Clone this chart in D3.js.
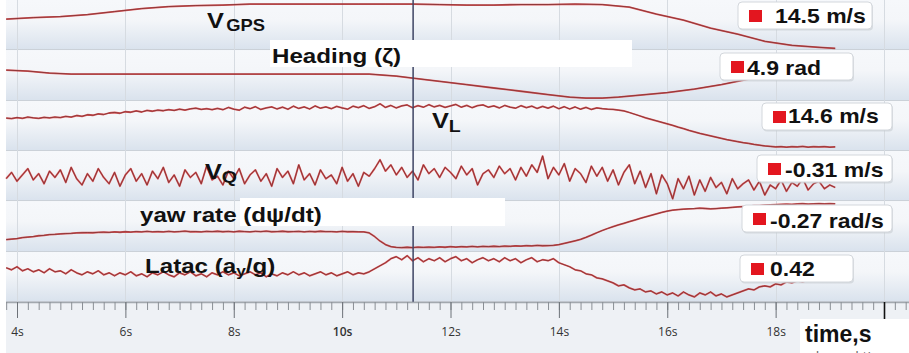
<!DOCTYPE html>
<html>
<head>
<meta charset="utf-8">
<script src="https://cdn.jsdelivr.net/npm/d3@7"></script>
<style>
  html, body { margin: 0; padding: 0; background: #fff; }
  svg { display: block; }
</style>
</head>
<body>
<svg id="chart" width="909" height="353"></svg>
<script>
// logged channels, sampled every dt seconds starting at t0
const t0 = 3.8, dt = 0.1;

// slow channels with their own time stamps
const vgpsTime = [3.8, 4.3, 4.8, 5.3, 5.8, 6.3, 6.8, 7.3, 7.8, 8.3, 8.8, 9.3, 9.8, 10.3, 10.8, 11.3,
  11.8, 12.3, 12.8, 13.3, 13.8, 14.3, 14.8, 15.3, 15.8, 16.3, 16.8, 17.3, 17.8, 18.3, 18.8, 19.1];
const vgps = [16.78, 16.9, 16.98, 17.14, 17.38, 17.62, 17.78, 17.86, 17.9, 17.98, 17.98, 17.98, 17.98, 17.98, 17.98, 17.98,
  17.94, 17.9, 17.9, 17.94, 17.94, 17.98, 17.94, 17.74, 17.18, 16.7, 16.06, 15.58, 15.02, 14.7, 14.54, 14.46];

const headingTime = [3.8, 4.2, 4.6, 5.0, 5.5, 6.5, 7.5, 8.5, 9.5, 10.5, 11.0, 11.3, 11.8, 12.3, 12.8,
  13.3, 13.8, 14.2, 14.5, 14.8, 15.1, 15.5, 16.0, 16.5, 17.0, 17.5, 18.0, 18.5, 19.1];
const heading = [5.108, 5.088, 5.049, 5.029, 5.029, 5.029, 5.029, 5.029, 5.029, 5.029, 4.989, 4.949, 4.884, 4.818, 4.752,
  4.687, 4.621, 4.57, 4.552, 4.552, 4.572, 4.611, 4.661, 4.731, 4.82, 4.929, 5.009, 5.088, 5.168];

// fast channels (one value per dt)
const vL = [
  16.82, 16.78, 16.86, 16.8, 16.9, 16.84, 16.79, 16.88, 16.83, 16.9,
  16.86, 16.95, 16.9, 17.02, 16.96, 17.08, 17.04, 17.15, 17.1, 17.22,
  17.26, 17.2, 17.32, 17.28, 17.38, 17.3, 17.42, 17.36, 17.45, 17.4,
  17.48, 17.42, 17.52, 17.45, 17.55, 17.6, 17.5, 17.56, 17.48, 17.58,
  17.48, 17.66, 17.52, 17.44, 17.68, 17.56, 17.72, 17.5, 17.62, 17.7,
  17.54, 17.68, 17.52, 17.76, 17.58, 17.7, 17.54, 17.78, 17.6, 17.7,
  17.56, 17.74, 17.62, 17.52, 17.76, 17.64, 17.8, 17.58, 17.72, 17.95,
  17.66, 17.82, 17.62, 17.78, 17.86, 17.64, 17.8, 17.68, 17.88, 17.7,
  17.82, 17.66, 17.78, 17.9, 17.68, 17.82, 17.64, 17.8, 17.86, 17.68,
  17.78, 17.62, 17.82, 17.68, 17.6, 17.8, 17.64, 17.76, 17.58, 17.74,
  17.6, 17.76, 17.56, 17.72, 17.54, 17.7, 17.52, 17.66, 17.5, 17.62,
  17.56, 17.52, 17.5, 17.45, 17.38, 17.26, 17.12, 16.98, 16.84, 16.72,
  16.6, 16.48, 16.36, 16.24, 16.1, 15.98, 15.84, 15.72, 15.6, 15.5,
  15.4, 15.3, 15.2, 15.1, 15.02, 14.94, 14.86, 14.8, 14.72, 14.66,
  14.6, 14.56, 14.52, 14.55, 14.5, 14.54, 14.52, 14.56, 14.5, 14.54,
  14.52, 14.55, 14.5, 14.53
];

const vQ = [
  -0.1, 0.15, -0.2, 0.05, 0.3, -0.15, 0.1, -0.3, 0.2, -0.05,
  0.25, -0.25, 0.35, -0.1, -0.35, 0.1, -0.2, 0.3, -0.05, -0.3,
  0.15, -0.4, 0.05, 0.3, -0.2, 0.1, -0.35, 0.2, -0.1, 0.35,
  -0.25, 0.05, -0.4, 0.25, -0.05, 0.15, -0.3, 0.4, -0.15, 0.0,
  -0.35, 0.2, -0.1, 0.3, -0.3, 0.05, 0.25, -0.2, 0.1, -0.4,
  0.3, -0.05, 0.2, -0.3, 0.45, -0.15, 0.1, -0.35, 0.25, -0.1,
  0.05, -0.3, 0.35, -0.2, 0.1, -0.4, 0.15, 0.0, 0.3, 0.65,
  0.2, 0.45, 0.05, 0.35, -0.05, 0.2, -0.15, 0.45, 0.1, 0.3,
  -0.05, 0.35, 0.15, -0.1, 0.4, 0.05, 0.3, -0.35, 0.1, 0.25,
  -0.05, 0.4, 0.1, 0.3, -0.15, 0.35, 0.0, 0.45, 0.15, 0.8,
  -0.1, 0.35, 0.05, 0.5, -0.2, 0.3, 0.1, -0.25, 0.4, 0.0,
  0.35, -0.2, 0.25, -0.35, 0.15, 0.45, -0.3, 0.2, -0.45, 0.1,
  -0.7, 0.05, -0.3, -0.9, -0.1, -0.5, 0.0, -0.75, -0.15, -0.6,
  -0.05, -0.45, -0.25, -0.7, -0.1, -0.5, -0.3, -0.15, -0.55, -0.2,
  -0.75, -0.35, -0.5, -0.15, -0.6, -0.25, -0.4, -0.1, -0.55, -0.3,
  -0.2, -0.5, -0.35, -0.45
];

const yawRate = [
  0.08, 0.075, 0.07, 0.06, 0.055, 0.05, 0.042, 0.038, 0.03, 0.028,
  0.024, 0.02, 0.018, 0.014, 0.012, 0.01, 0.012, 0.008, 0.006, 0.009,
  0.004, 0.007, 0.002, 0.005, 0.0, 0.004, -0.002, 0.003, 0.0, 0.004,
  -0.002, 0.003, 0.0, -0.004, 0.002, 0.0, 0.004, -0.002, 0.001, -0.003,
  0.002, -0.001, 0.003, -0.003, 0.0, 0.003, -0.002, 0.001, -0.004, 0.002,
  0.0, -0.003, 0.002, 0.0, -0.002, 0.003, -0.001, 0.002, -0.003, 0.001,
  0.0, 0.003, -0.002, 0.002, 0.0, 0.003, 0.004, 0.014, 0.05, 0.095,
  0.13, 0.15, 0.158, 0.16, 0.156, 0.16, 0.155, 0.158, 0.154, 0.157,
  0.152, 0.156, 0.15, 0.154, 0.149, 0.153, 0.148, 0.152, 0.147, 0.15,
  0.146, 0.149, 0.144, 0.147, 0.142, 0.145, 0.14, 0.143, 0.138, 0.141,
  0.14, 0.137, 0.13, 0.118, 0.105, 0.092, 0.078, 0.058, 0.036, 0.012,
  -0.01, -0.03, -0.048, -0.066, -0.082, -0.098, -0.114, -0.13, -0.145, -0.16,
  -0.175, -0.19, -0.203, -0.212, -0.218, -0.222, -0.226, -0.228, -0.232, -0.229,
  -0.225, -0.228, -0.232, -0.236, -0.24, -0.244, -0.248, -0.252, -0.256, -0.258,
  -0.262, -0.265, -0.268, -0.27, -0.272, -0.27, -0.274, -0.276, -0.273, -0.275,
  -0.277, -0.274, -0.276, -0.275
];

const latac = [
  0.09, 0.07, 0.1, 0.06, 0.08, 0.05, 0.07, 0.04, 0.08, 0.05,
  0.06, 0.03, 0.07, 0.04, 0.02, 0.05, 0.03, 0.06, 0.02, 0.04,
  0.01, 0.04, 0.02, 0.05, 0.01, 0.03, 0.0, 0.04, 0.02, 0.05,
  0.02, 0.0, 0.04, 0.02, 0.05, 0.01, 0.03, 0.0, 0.04, 0.02,
  0.05, 0.02, 0.04, 0.01, 0.03, 0.05, 0.02, 0.04, 0.0, 0.03,
  0.01, 0.04, 0.02, 0.05, 0.02, 0.04, 0.01, 0.03, 0.05, 0.02,
  0.04, 0.01, 0.03, 0.05, 0.02, 0.04, 0.03, 0.05, 0.08, 0.11,
  0.14, 0.18, 0.2, 0.17, 0.21, 0.16, 0.19, 0.15, 0.18, 0.16,
  0.19, 0.15, 0.18, 0.2, 0.16, 0.18, 0.14, 0.17, 0.19, 0.16,
  0.18, 0.15, 0.19, 0.16, 0.18, 0.14, 0.17, 0.19, 0.15, 0.17,
  0.16, 0.18, 0.14, 0.12, 0.1, 0.07, 0.06, 0.03, 0.02, -0.01,
  -0.02, -0.04, -0.06, -0.09, -0.08, -0.11, -0.13, -0.12, -0.15, -0.14,
  -0.17, -0.15, -0.18, -0.16, -0.19, -0.15, -0.18, -0.2, -0.16, -0.18,
  -0.15, -0.19, -0.17, -0.2, -0.18, -0.16, -0.14, -0.12, -0.13, -0.1,
  -0.09, -0.1, -0.07, -0.08, -0.05, -0.06, -0.04, -0.05, -0.03, -0.04,
  -0.02, -0.04, -0.03, -0.02
];

const majorTicks = [4, 6, 8, 10, 12, 14, 16, 18, 20];
const readouts = ["14.5 m/s", "4.9 rad", "14.6 m/s", "-0.31 m/s", "-0.27 rad/s", "0.42"];
const cursorTime = 11.31;

const width = 909, plotLeft = 6, axisY = 302;
const svg = d3.select("#chart");

const x = d3.scaleLinear().domain([4, 20]).range([17, 884]);
const row = d3.scaleBand().domain(d3.range(6)).range([0, axisY]);

const sampled = (v) => v.map((_, i) => t0 + i * dt);

// one strip per channel, value domain = [bottom, top] of the strip
const channels = [
  { time: vgpsTime, values: vgps, domain: [14.3, 18.3] },
  { time: headingTime, values: heading, domain: [4.5, 5.5] },
  { time: sampled(vL), values: vL, domain: [14.2, 18.2] },
  { time: sampled(vQ), values: vQ, domain: [-1, 1] },
  { time: sampled(yawRate), values: yawRate, domain: [0.2, -0.3] },
  { time: sampled(latac), values: latac, domain: [-0.25, 0.25] }
];

const defs = svg.append("defs");
const grad = defs.append("linearGradient").attr("id", "band")
  .attr("x1", 0).attr("y1", 0).attr("x2", 0).attr("y2", 1);
grad.append("stop").attr("offset", "0%").attr("stop-color", "#f6f8fb");
grad.append("stop").attr("offset", "40%").attr("stop-color", "#f4f6f9");
grad.append("stop").attr("offset", "100%").attr("stop-color", "#d9e2ed");

// bottom area
svg.append("rect").attr("x", plotLeft).attr("y", axisY).attr("width", width - plotLeft)
  .attr("height", 353 - axisY).attr("fill", "#eef1f5");

// strips
svg.append("g").selectAll("rect").data(channels).enter().append("rect")
  .attr("x", plotLeft).attr("y", (d, i) => row(i))
  .attr("width", width - plotLeft).attr("height", row.bandwidth())
  .attr("fill", "url(#band)");
svg.append("g").attr("stroke", "#cbd1d8").attr("stroke-width", 1)
  .selectAll("line").data(channels).enter().append("line")
  .attr("x1", plotLeft).attr("x2", width)
  .attr("y1", (d, i) => Math.round(row(i) + row.bandwidth()) - 0.5)
  .attr("y2", (d, i) => Math.round(row(i) + row.bandwidth()) - 0.5);

// vertical grid
svg.append("g").attr("stroke", "#d6dbe1").attr("stroke-width", 1)
  .selectAll("line").data(majorTicks).enter().append("line")
  .attr("x1", (d) => Math.round(x(d)) + 0.5).attr("x2", (d) => Math.round(x(d)) + 0.5)
  .attr("y1", 0).attr("y2", axisY);

// traces
const traces = svg.append("g").attr("fill", "none").attr("stroke-linejoin", "round");
channels.forEach((c, i) => {
  const y = d3.scaleLinear().domain(c.domain).range([row(i) + row.bandwidth(), row(i)]);
  const line = d3.line().x((d, j) => x(c.time[j])).y((d) => y(d));
  traces.append("path").attr("d", line(c.values))
    .attr("stroke", "#d6393c").attr("stroke-width", 1.8).attr("stroke-opacity", 0.85);
  traces.append("path").attr("d", line(c.values))
    .attr("stroke", "#6e2b2b").attr("stroke-width", 0.7);
});

// cursor
svg.append("line").attr("x1", x(cursorTime)).attr("x2", x(cursorTime))
  .attr("y1", 0).attr("y2", axisY).attr("stroke", "#3d4463").attr("stroke-width", 1.5);

// white plates behind some titles
svg.append("rect").attr("x", 270).attr("y", 40).attr("width", 362).attr("height", 27).attr("fill", "#fff");
svg.append("rect").attr("x", 240).attr("y", 198).attr("width", 265).attr("height", 28).attr("fill", "#fff");

// titles
const font = "'Liberation Sans', Arial, sans-serif";
function title(px, py, parts) {
  const t = svg.append("text").attr("transform", `translate(${px},${py}) scale(1.15,1)`)
    .attr("font-family", font).attr("font-weight", "bold").attr("fill", "#111");
  parts.forEach((p) => {
    t.append("tspan").text(p.text).attr("font-size", p.size)
      .attr("dy", p.dy || 0).attr("dx", p.dx || 0);
  });
}
title(207, 28, [{ text: "V", size: 22 }, { text: "GPS", size: 16, dy: 3, dx: 2 }]);
title(272, 63, [{ text: "Heading (ζ)", size: 21 }]);
title(432, 128, [{ text: "V", size: 22 }, { text: "L", size: 17, dy: 4 }]);
title(205, 179, [{ text: "V", size: 22 }, { text: "Q", size: 17, dy: 4 }]);
title(140, 222, [{ text: "yaw rate (dψ/dt)", size: 21 }]);
title(145, 273, [{ text: "Latac (a", size: 21 }, { text: "y", size: 15, dy: 3 }, { text: "/g)", size: 21, dy: -3 }]);

// readout boxes
const boxes = [
  { x: 738, y: 2, w: 134, tx: 775, ty: 23 },
  { x: 720, y: 53, w: 133, tx: 747, ty: 75 },
  { x: 762, y: 103, w: 130, tx: 788, ty: 123 },
  { x: 757, y: 155, w: 135, tx: 785, ty: 177 },
  { x: 742, y: 205, w: 150, tx: 770, ty: 228 },
  { x: 740, y: 255, w: 113, tx: 770, ty: 276 }
];
const rb = svg.append("g").selectAll("g").data(readouts).enter().append("g");
rb.append("rect").attr("x", (d, i) => boxes[i].x + 1).attr("y", (d, i) => boxes[i].y + 1.5)
  .attr("width", (d, i) => boxes[i].w).attr("height", 27).attr("rx", 4)
  .attr("fill", "#c3c8ce").attr("opacity", 0.55);
rb.append("rect").attr("x", (d, i) => boxes[i].x).attr("y", (d, i) => boxes[i].y)
  .attr("width", (d, i) => boxes[i].w).attr("height", 27).attr("rx", 4)
  .attr("fill", "#fff").attr("stroke", "#d3d7dc");
rb.append("rect").attr("x", (d, i) => boxes[i].x + 11).attr("y", (d, i) => boxes[i].y + 8)
  .attr("width", 13).attr("height", 12).attr("fill", "#e3161f");
rb.append("text").attr("transform", (d, i) => `translate(${boxes[i].tx},${boxes[i].ty}) scale(1.15,1)`)
  .attr("font-family", font).attr("font-weight", "bold").attr("font-size", 20)
  .attr("fill", "#111").text((d) => d);

// x axis
svg.append("line").attr("x1", plotLeft).attr("x2", width).attr("y1", axisY + 0.5).attr("y2", axisY + 0.5)
  .attr("stroke", "#a2a8ae").attr("stroke-width", 1.5);

const minor = svg.append("g").attr("transform", `translate(0,${axisY})`)
  .call(d3.axisBottom(x).tickValues(d3.range(3.8, 21, 0.2)).tickSize(8).tickFormat(""));
minor.select(".domain").remove();
minor.selectAll("line").attr("stroke", "#8a8f95");

const major = svg.append("g").attr("transform", `translate(0,${axisY})`)
  .call(d3.axisBottom(x).tickValues(majorTicks).tickSize(16).tickPadding(9).tickFormat((d) => d + "s"));
major.select(".domain").remove();
major.selectAll("line").attr("stroke", (d) => (d === 20 ? "#111" : "#6d7278"))
  .attr("stroke-width", (d) => (d === 20 ? 1.6 : 1))
  .attr("y2", (d) => (d === 20 ? 20 : 16));
major.selectAll("text").attr("font-family", "'Open Sans', sans-serif").attr("font-size", 12)
  .attr("fill", "#333").attr("font-weight", (d) => (d === 10 ? 600 : 400));

// axis title
svg.append("rect").attr("x", 800).attr("y", 319).attr("width", 109).attr("height", 34).attr("fill", "#fff");
svg.append("text").attr("x", 805).attr("y", 342).attr("font-family", font).attr("font-weight", "bold")
  .attr("font-size", 23).attr("fill", "#111").text("time,s");
svg.append("text").attr("x", 808).attr("y", 362).attr("font-family", "'Open Sans', sans-serif")
  .attr("font-size", 14).attr("fill", "#666").text("elapsed time");
</script>
</body>
</html>
